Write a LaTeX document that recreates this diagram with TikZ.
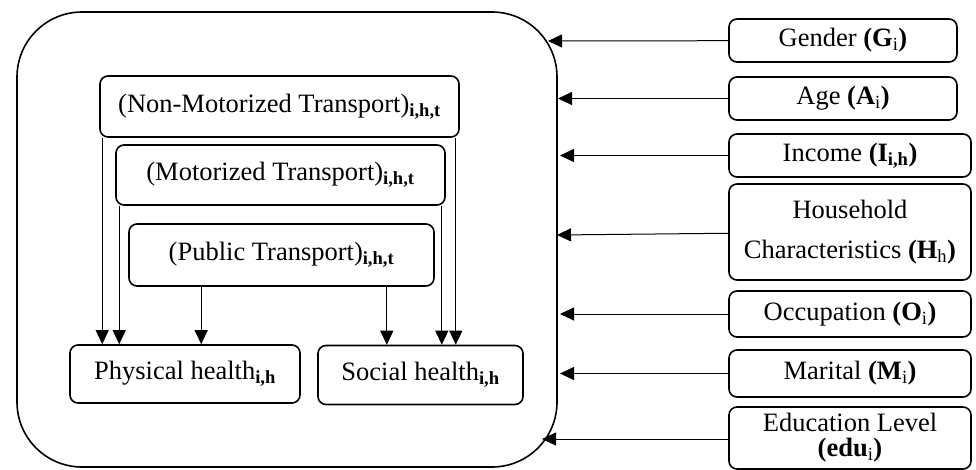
\documentclass[tikz,border=0pt]{standalone}
\usepackage{fontspec}
\setmainfont{Liberation Serif}
\usetikzlibrary{arrows.meta}

\begin{document}
\begin{tikzpicture}[x=1pt,y=-1pt]
                \useasboundingbox (0,0) rectangle (976,469);
                \node [draw, line width=1.6pt, rounded corners=65pt, minimum width=540pt, minimum height=455pt] (frame) at (287,239.5) {};
                \begin{scope}[every node/.style={draw, line width=1.6pt, rounded corners=8pt, inner sep=0pt, align=center, font=\fontsize{26.5}{30}\selectfont}, every path/.style={line width=1pt, -{Triangle[length=14pt,width=13pt]}}]
                        \node [minimum width=359pt, minimum height=61pt] (nmt) at (279.5,106.5) {(Non-Motorized Transport)\textsubscript{\textbf{i,h,t}}};
                        \node [minimum width=329pt, minimum height=60pt] (mot) at (280.5,175) {(Motorized Transport)\textsubscript{\textbf{i,h,t}}};
                        \node [minimum width=305pt, minimum height=62pt] (pub) at (281.5,255) {(Public Transport)\textsubscript{\textbf{i,h,t}}};
                        \node [minimum width=230pt, minimum height=58pt] (phys) at (185,374) {Physical health\textsubscript{\textbf{i,h}}};
                        \node [minimum width=205pt, minimum height=59pt] (soc) at (420.5,375) {Social health\textsubscript{\textbf{i,h}}};

                        \node [minimum width=228pt, minimum height=43pt] (gender) at (843,40.5) {Gender \textbf{(G}\textsubscript{i}\textbf{)}};
                        \node [minimum width=228pt, minimum height=43pt] (age) at (843,98.5) {Age \textbf{(A}\textsubscript{i}\textbf{)}};
                        \node [minimum width=242pt, minimum height=43pt] (income) at (850,155.5) {Income \textbf{(I\textsubscript{i,h})}};
                        \node [minimum width=242pt, minimum height=96pt, font=\fontsize{26.5}{40}\selectfont] (house) at (850,232) {Household\\Characteristics \textbf{(H}\textsubscript{h}\textbf{)}};
                        \node [minimum width=242pt, minimum height=46pt] (occ) at (850,314) {Occupation \textbf{(O}\textsubscript{i}\textbf{)}};
                        \node [minimum width=242pt, minimum height=47pt] (mar) at (850,373.5) {Marital \textbf{(M}\textsubscript{i}\textbf{)}};
                        \node [minimum width=242pt, minimum height=62pt, font=\fontsize{26.5}{25}\selectfont] (edu) at (850,438) {Education Level\\\textbf{(edu}\textsubscript{i}\textbf{)}};

                        \coordinate (cg) at (548,41);
                        \coordinate (ca) at (558,98.5);
                        \coordinate (ci) at (560,155.5);
                        \coordinate (ch) at (557,235);
                        \coordinate (co) at (560,314);
                        \coordinate (cm) at (560,373.5);
                        \coordinate (ce) at (542,439);

                        \path (gender) edge (cg);
                        \path (age) edge (ca);
                        \path (income) edge (ci);
                        \path (house) edge (ch);
                        \path (occ) edge (co);
                        \path (mar) edge (cm);
                        \path (edu.west |- ce) edge (ce);

                        \path ([xshift=3pt]nmt.south west) edge ([xshift=3pt]nmt.south west |- phys.north);
                        \path ([xshift=4pt]mot.south west) edge ([xshift=4pt]mot.south west |- phys.north);
                        \path ([xshift=73pt]pub.south west) edge ([xshift=73pt]pub.south west |- phys.north);
                        \path ([xshift=-48pt]pub.south east) edge ([xshift=-48pt]pub.south east |- soc.north);
                        \path ([xshift=-4pt]mot.south east) edge ([xshift=-4pt]mot.south east |- soc.north);
                        \path ([xshift=-4pt]nmt.south east) edge ([xshift=-4pt]nmt.south east |- soc.north);
               \end{scope}
\end{tikzpicture}
\end{document}
